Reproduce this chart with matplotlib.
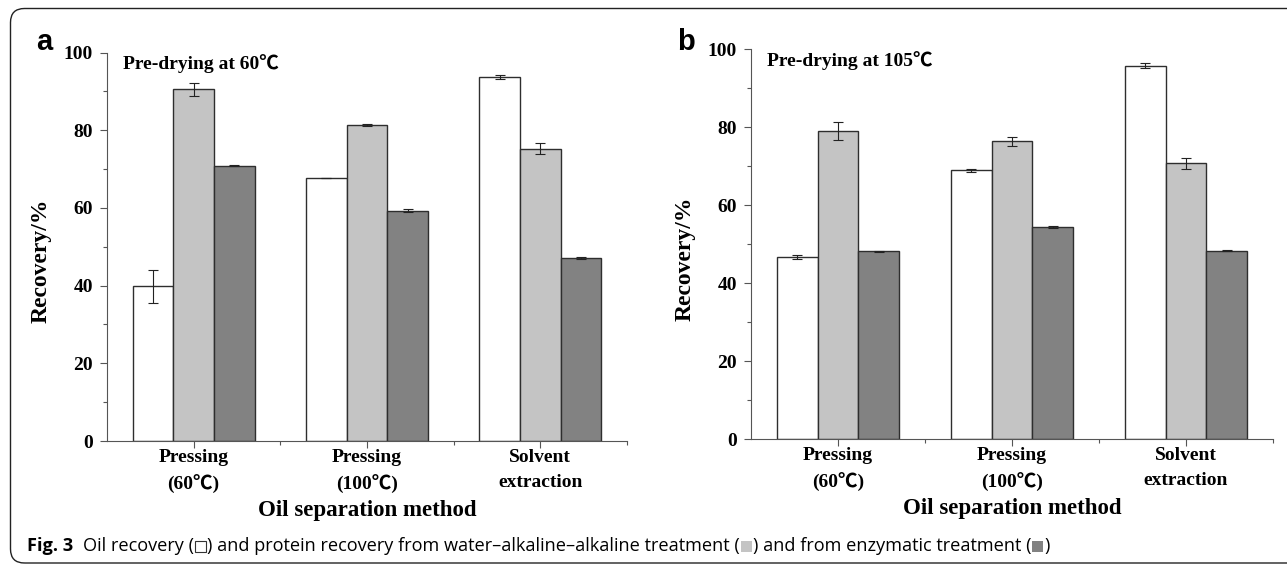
#! /usr/bin/env python

# import modules
import numpy
import matplotlib
matplotlib.use('Agg')
import matplotlib.pyplot
import matplotlib.patches
import matplotlib.transforms

# data
# ----
methods = ['Pressing\n(60\u2103)', 'Pressing\n(100\u2103)', 'Solvent\nextraction']

# panel a : pre-drying at 60C
oil_a = [39.8, 67.6, 93.7]
oil_a_err = [4.2, 0.0, 0.5]
wal_a = [90.5, 81.3, 75.2]
wal_a_err = [1.7, 0.2, 1.4]
enz_a = [70.9, 59.3, 47.1]
enz_a_err = [0.2, 0.4, 0.3]

# panel b : pre-drying at 105C
oil_b = [46.6, 68.9, 95.8]
oil_b_err = [0.5, 0.4, 0.7]
wal_b = [79.1, 76.4, 70.7]
wal_b_err = [2.3, 1.1, 1.5]
enz_b = [48.2, 54.4, 48.3]
enz_b_err = [0.1, 0.3, 0.15]

notes = ['Pre-drying at 60\u2103', 'Pre-drying at 105\u2103']
panel_tags = ['a', 'b']

# style
# -----
W, H = 1287, 565
serif = ['Liberation Serif', 'Noto Sans CJK SC']
fills = ['#ffffff', '#c4c4c4', '#828282']
edge = '#2e2e2e'
spine = '#555555'
bar_w = 0.234


def panel(ax, vals, errs, note):
    x = numpy.arange(len(methods))
    for k in range(3):
        ax.bar(x + (k - 1) * bar_w, vals[k], bar_w, yerr=errs[k], color=fills[k],
               edgecolor=edge, linewidth=1.0, capsize=3.6,
               error_kw={'ecolor': '#222222', 'elinewidth': 0.8, 'capthick': 0.8})

    ax.set_xlim(-0.5, 2.5)
    ax.set_ylim(0, 100)
    ax.set_xticks(x)
    ax.set_xticklabels(methods, family=serif, fontweight='bold', fontsize=14,
                       linespacing=1.6)
    ax.set_xticks([0.5, 1.5, 2.5], minor=True)
    ax.set_yticks(numpy.arange(0, 101, 20))
    ax.set_yticks(numpy.arange(10, 100, 20), minor=True)
    [_t.set_fontweight('bold') for _t in ax.get_yticklabels()]
    [_t.set_family(serif) for _t in ax.get_yticklabels()]
    [_t.set_fontsize(14) for _t in ax.get_yticklabels()]

    ax.tick_params(which='major', direction='out', length=5, width=0.8, color=spine)
    ax.tick_params(which='minor', direction='out', length=3, width=0.8, color=spine)
    ax.tick_params(axis='x', which='major', pad=1)
    ax.tick_params(axis='y', which='major', pad=5)

    ax.spines['top'].set_visible(False)
    ax.spines['right'].set_visible(False)
    ax.spines['left'].set_color(spine)
    ax.spines['bottom'].set_color(spine)
    ax.spines['left'].set_linewidth(0.8)
    ax.spines['bottom'].set_linewidth(0.8)

    ax.set_xlabel('Oil separation method', family=serif, fontweight='bold',
                  fontsize=16.5, labelpad=4)
    ax.set_ylabel('Recovery/%', family=serif, fontweight='bold', fontsize=17)
    ax.yaxis.set_label_coords(-0.106, 0.463)
    ax.text(0.03, 0.972, note, transform=ax.transAxes, family=serif,
            fontweight='bold', fontsize=14, va='center', ha='left')
    return


def caption(fig, x0, y0):
    # write the caption piece by piece, squares drawn as patches
    renderer = fig.canvas.get_renderer()
    cap_font = {'family': ['Open Sans', 'DejaVu Sans'], 'fontsize': 13.1}
    pieces = [('bold', 'Fig. 3'), ('gap', 10),
              ('text', 'Oil recovery ('), ('box', fills[0]),
              ('text', ') and protein recovery from water\u2013alkaline\u2013alkaline treatment ('),
              ('box', fills[1]),
              ('text', ') and from enzymatic treatment ('), ('box', fills[2]),
              ('text', ')')]
    x = x0
    for kind, val in pieces:
        if kind in ('bold', 'text'):
            t = fig.text(x / W, y0 / H, val, va='baseline', ha='left',
                         fontweight='bold' if kind == 'bold' else 'normal', **cap_font)
            x = t.get_window_extent(renderer).x1
        elif kind == 'gap':
            x += val
        else:
            sq = 11.0
            r = matplotlib.patches.Rectangle((x + 1.0, y0 - 1.0), sq, sq,
                                             facecolor=val,
                                             edgecolor='#333333' if val == '#ffffff' else 'none',
                                             linewidth=0.8,
                                             transform=matplotlib.transforms.IdentityTransform())
            fig.add_artist(r)
            x += sq + 2.0
    return


fig = matplotlib.pyplot.figure(figsize=(W / 100, H / 100), dpi=100)
ax_a = fig.add_axes([107 / W, 124 / H, 520 / W, 388.5 / H])
ax_b = fig.add_axes([751 / W, 126 / H, 522 / W, 389.7 / H])

panel(ax_a, [oil_a, wal_a, enz_a], [oil_a_err, wal_a_err, enz_a_err], notes[0])
panel(ax_b, [oil_b, wal_b, enz_b], [oil_b_err, wal_b_err, enz_b_err], notes[1])

# panel tags
fig.text(36 / W, (H - 50) / H, panel_tags[0], family='Liberation Sans',
         fontweight='bold', fontsize=21, ha='left', va='baseline')
fig.text(677 / W, (H - 50) / H, panel_tags[1], family='Liberation Sans',
         fontweight='bold', fontsize=21, ha='left', va='baseline')

# outer frame
frame = matplotlib.patches.FancyBboxPatch((10.5, 2.0), 1400, 554.5,
                                          boxstyle='round,pad=0,rounding_size=14',
                                          facecolor='none', edgecolor='#222222',
                                          linewidth=1.0,
                                          transform=matplotlib.transforms.IdentityTransform())
fig.add_artist(frame)

caption(fig, 26.7, H - 551)

fig.savefig('out.png', dpi=100)
